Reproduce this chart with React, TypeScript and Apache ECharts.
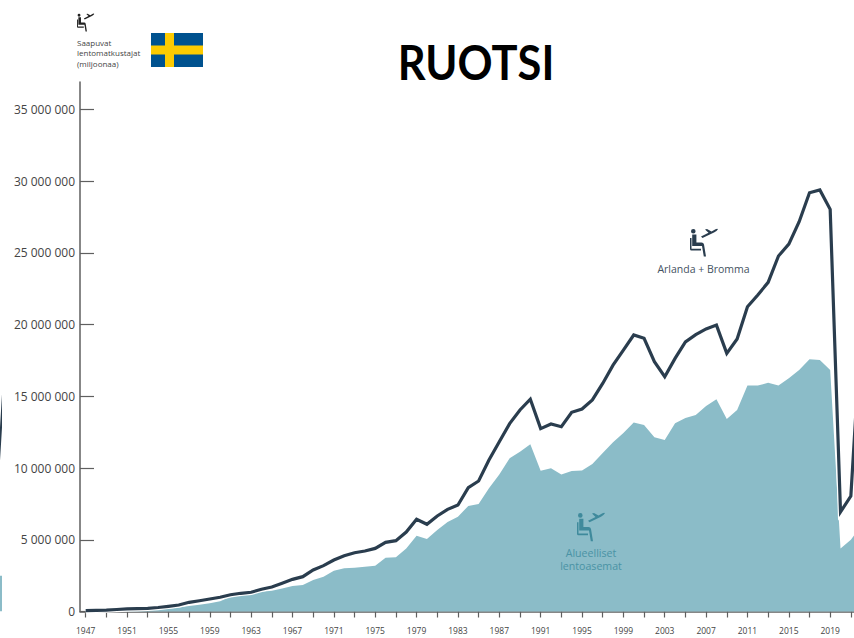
import React, { useEffect, useRef } from "react";
import * as echarts from "echarts";

const years = [
  1947, 1948, 1949, 1950, 1951, 1952, 1953, 1954, 1955, 1956, 1957, 1958, 1959, 1960, 1961, 1962, 1963, 1964, 1965,
  1966, 1967, 1968, 1969, 1970, 1971, 1972, 1973, 1974, 1975, 1976, 1977, 1978, 1979, 1980, 1981, 1982, 1983, 1984,
  1985, 1986, 1987, 1988, 1989, 1990, 1991, 1992, 1993, 1994, 1995, 1996, 1997, 1998, 1999, 2000, 2001, 2002, 2003,
  2004, 2005, 2006, 2007, 2008, 2009, 2010, 2011, 2012, 2013, 2014, 2015, 2016, 2017, 2018, 2019, 2020, 2021, 2022,
];
const arlandaBromma = [
  60000, 80000, 100000, 140000, 180000, 200000, 220000, 280000, 360000, 450000, 640000, 750000, 870000, 990000,
  1170000, 1270000, 1340000, 1550000, 1710000, 1970000, 2240000, 2430000, 2900000, 3200000, 3590000, 3890000, 4100000,
  4220000, 4400000, 4820000, 4940000, 5540000, 6430000, 6080000, 6660000, 7120000, 7420000, 8630000, 9100000, 10560000,
  11840000, 13100000, 14050000, 14800000, 12750000, 13070000, 12880000, 13890000, 14120000, 14750000, 15900000,
  17180000, 18230000, 19280000, 19050000, 17420000, 16370000, 17650000, 18800000, 19300000, 19700000, 19970000,
  18000000, 19000000, 21250000, 22070000, 22950000, 24790000, 25620000, 27180000, 29200000, 29390000, 28040000,
  6940000, 8050000, 20000000,
];
const alueelliset = [
  20000, 30000, 50000, 70000, 90000, 110000, 130000, 160000, 200000, 280000, 380000, 470000, 570000, 710000, 1030000,
  1200000, 1270000, 1380000, 1450000, 1600000, 1780000, 1850000, 2200000, 2430000, 2850000, 3010000, 3050000, 3120000,
  3190000, 3750000, 3780000, 4400000, 5290000, 5050000, 5680000, 6240000, 6610000, 7360000, 7500000, 8590000, 9560000,
  10680000, 11140000, 11660000, 9820000, 9980000, 9560000, 9800000, 9840000, 10280000, 11050000, 11800000, 12440000,
  13170000, 13000000, 12150000, 11960000, 13130000, 13490000, 13700000, 14330000, 14800000, 13420000, 14050000,
  15750000, 15750000, 15950000, 15750000, 16260000, 16840000, 17580000, 17540000, 16840000, 4400000, 5000000, 6000000,
];
const wrappedYears = [2021, 2022];
const wrappedArea = [2500000, 2500000];

const yTicks = [0, 5000000, 10000000, 15000000, 20000000, 25000000, 30000000, 35000000];
const yLabels = ["0", "5 000 000", "10 000 000", "15 000 000", "20 000 000", "25 000 000", "30 000 000", "35 000 000"];
const xTickYears = [
  1947, 1949, 1951, 1953, 1955, 1957, 1959, 1961, 1963, 1965, 1967, 1969, 1971, 1973, 1975, 1977, 1979, 1981, 1983,
  1985, 1987, 1989, 1991, 1993, 1995, 1997, 1999, 2001, 2003, 2005, 2007, 2009, 2011, 2013, 2015, 2017, 2019, 2021,
];
const xLabelYears = [
  1947, 1951, 1955, 1959, 1963, 1967, 1971, 1975, 1979, 1983, 1987, 1991, 1995, 1999, 2003, 2007, 2011, 2015, 2019,
];
const unitText = "Saapuvat\nlentomatkustajat\n(miljoonaa)";
const airportText = "Arlanda + Bromma";
const regionalText = "Alueelliset\nlentoasemat";
const titleText = "RUOTSI";

const DARK = "#2a3d4e";
const TEAL = "#8bbcc8";
const ICON_TEAL = "#3f8a9c";
const AXIS = "#5f5f5f";
const TEXT = "#444444";
const FONT = '"Open Sans", sans-serif';

const PX_PER_YEAR = 10.34;
const X_MIN = 1947 - 5.7 / PX_PER_YEAR;
const X_MAX = X_MIN + 774 / PX_PER_YEAR;

const ICON_PATH =
  "M5.6 3.3a2.3 2.3 0 1 1-4.6 0a2.3 2.3 0 1 1 4.6 0Z" +
  "M2.2 6.5H6.4V14.5H11.5Q13.6 14.5 14 16.5L16 28.5H13.8L12 18H2.2Z" +
  "M0 10H1.5V20.8H11V22.5H1.5Q0 22.5 0 21Z" +
  "M11 8.5L18.5 4.8L15 1.5L17 1L21.5 3.5L25.5 1.2Q28 0.3 27.8 1.5Q27 3 24 4.5L12.5 10Z";
echarts.graphic.registerShape("passenger", echarts.graphic.extendPath(ICON_PATH, {}) as any);

export default function App() {
  const ref = useRef<HTMLDivElement>(null);
  useEffect(() => {
    document.body.style.margin = "0";
    const chart = echarts.init(ref.current!, null, { renderer: "svg" });
    const linePts = years.map((y, i) => [y, arlandaBromma[i]]);
    const areaPts = years.map((y, i) => [y, alueelliset[i]]);
    const wrapPts = wrappedYears.map((y, i) => [y, wrappedArea[i]]);
    const hidden = { show: false };
    const textEl = (text: string, x: number, y: number, fontSize: number, fill: string, lineHeight: number, align = "left") => ({
      type: "text",
      z: 20,
      x,
      y,
      style: { text, fontSize, fill, fontFamily: FONT, align, verticalAlign: "middle", lineHeight },
    });
    chart.setOption({
      animation: false,
      backgroundColor: "#ffffff",
      grid: [
        { left: 80, top: 82, width: 774, height: 529.5, outerBoundsMode: "none" },
        { left: 0, top: 82, width: 2, height: 529.5, outerBoundsMode: "none" },
        { left: 0, top: 82, width: 0.4, height: 529.5, outerBoundsMode: "none" },
      ],
      xAxis: [
        {
          type: "value",
          min: X_MIN,
          max: X_MAX,
          splitLine: hidden,
          axisLine: { show: true, lineStyle: { color: AXIS, width: 1.5 } },
          axisTick: { show: true, length: 6, lineStyle: { color: AXIS, width: 1.2 }, customValues: xTickYears },
          axisLabel: { margin: 14, fontSize: 8.5, color: TEXT, fontFamily: FONT, customValues: xLabelYears, formatter: (v: number) => String(v) },
        },
        { type: "value", gridIndex: 1, min: X_MAX, max: X_MAX + 2 / PX_PER_YEAR, show: false },
        { type: "value", gridIndex: 2, min: X_MAX, max: X_MAX + 0.4 / PX_PER_YEAR, show: false },
      ],
      yAxis: [
        {
          type: "value",
          min: 0,
          max: 36920000,
          splitLine: hidden,
          axisLine: { show: true, lineStyle: { color: AXIS, width: 1.5 } },
          axisTick: { show: true, inside: true, length: 14, lineStyle: { color: AXIS, width: 1.2 }, customValues: yTicks },
          axisLabel: {
            margin: 5,
            fontSize: 12,
            color: TEXT,
            fontFamily: FONT,
            customValues: yTicks,
            formatter: (v: number) => yLabels[yTicks.indexOf(v)],
          },
        },
        { type: "value", gridIndex: 1, min: 0, max: 36920000, show: false },
        { type: "value", gridIndex: 2, min: 0, max: 36920000, show: false },
      ],
      series: [
        {
          name: "Alueelliset lentoasemat",
          type: "line",
          data: areaPts,
          showSymbol: false,
          clip: false,
          z: 1,
          lineStyle: { width: 0 },
          areaStyle: { color: TEAL, opacity: 1 },
        },
        {
          name: "halo",
          type: "line",
          data: linePts,
          showSymbol: false,
          clip: false,
          z: 2,
          lineStyle: { color: "#ffffff", width: 5.5, join: "miter" },
        },
        {
          name: "Arlanda + Bromma",
          type: "line",
          data: linePts,
          showSymbol: false,
          clip: false,
          z: 3,
          lineStyle: { color: DARK, width: 3.2, join: "miter" },
        },
        {
          name: "wrap line",
          type: "line",
          xAxisIndex: 2,
          yAxisIndex: 2,
          data: linePts,
          showSymbol: false,
          z: 3,
          lineStyle: { color: DARK, width: 2 },
        },
        {
          name: "wrap area",
          type: "line",
          xAxisIndex: 1,
          yAxisIndex: 1,
          data: wrapPts,
          showSymbol: false,
          z: 1,
          lineStyle: { width: 0 },
          areaStyle: { color: TEAL, opacity: 1 },
        },
      ],
      graphic: [
        { type: "rect", z: 20, shape: { x: 151, y: 33, width: 52, height: 34 }, style: { fill: "#00528f" } },
        { type: "rect", z: 21, shape: { x: 165, y: 33, width: 9, height: 34 }, style: { fill: "#fecb00" } },
        { type: "rect", z: 21, shape: { x: 151, y: 45.5, width: 52, height: 9 }, style: { fill: "#fecb00" } },
        { type: "passenger", z: 20, x: 77, y: 13, scaleX: 0.62, scaleY: 0.65, style: { fill: "#222222" } },
        { type: "passenger", z: 20, x: 690, y: 228, scaleX: 1, scaleY: 1, style: { fill: DARK } },
        { type: "passenger", z: 20, x: 577, y: 512, scaleX: 1, scaleY: 1.03, style: { fill: ICON_TEAL } },
        textEl(unitText, 77, 52.8, 8, TEXT, 10.5),
        textEl(airportText, 703.5, 269, 10.5, "#44525f", 13, "center"),
        textEl(regionalText, 591, 559.5, 10.6, "#4a93a5", 13, "center"),
        {
          type: "text",
          z: 20,
          x: 476,
          y: 62,
          scaleX: 0.905,
          style: { text: titleText, fontSize: 48, fill: "#000000", fontFamily: "Lato, sans-serif", fontWeight: 700, align: "center", verticalAlign: "middle" },
        },
      ],
    });
    return () => chart.dispose();
  }, []);
  return <div ref={ref} style={{ position: "absolute", left: 0, top: 0, width: 854, height: 638 }} />;
}
